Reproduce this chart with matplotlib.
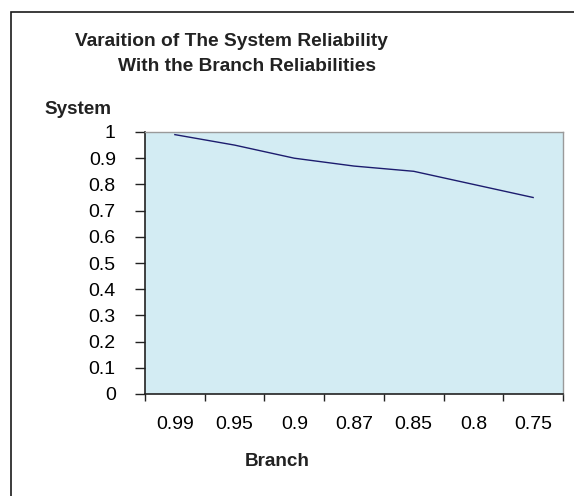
import matplotlib.pyplot as plt
from matplotlib.patches import Rectangle
from matplotlib.ticker import FixedLocator, FuncFormatter

# данные
branch = ["0.99", "0.95", "0.9", "0.87", "0.85", "0.8", "0.75"]
system = [0.99, 0.95, 0.90, 0.87, 0.85, 0.80, 0.75]

plt.rcParams['font.family'] = ['Liberation Sans', 'DejaVu Sans']

W, H = 574, 496
fig = plt.figure(figsize=(W / 100, H / 100), dpi=100)

# рамка всей диаграммы (обрезана справа и снизу)
fig.patches.append(Rectangle((11 / W, -0.1), 1.2, 1 - 12 / H + 0.1,
                             transform=fig.transFigure, fill=False,
                             edgecolor="#1a1a1a", linewidth=1.2))

ax = fig.add_axes([145 / W, 1 - 394 / H, (563 - 145) / W, (394 - 132) / H])
ax.set_facecolor("#d3ecf3")

x = list(range(len(branch)))
ax.plot(x, system, color="#1c1c6e", linewidth=1.0)

ax.set_xlim(-0.5, len(branch) - 0.5)
ax.set_ylim(0, 1)

ax.set_xticks(x)
ax.set_xticklabels(branch)
ax.xaxis.set_minor_locator(FixedLocator([i - 0.5 for i in range(len(branch) + 1)]))
ax.tick_params(axis="x", which="major", length=0, pad=16, labelsize=14)
ax.tick_params(axis="x", which="minor", length=5, width=1, color="#222222")

ax.set_yticks([i / 10 for i in range(11)])
ax.yaxis.set_major_formatter(FuncFormatter(lambda v, p: "%g" % round(v, 1)))
ax.tick_params(axis="y", length=7, width=1, pad=14, labelsize=14, color="#222222")

for s in ["top", "right"]:
    ax.spines[s].set_color("#9a9a9a")
    ax.spines[s].set_linewidth(1.0)
for s in ["left", "bottom"]:
    ax.spines[s].set_color("#222222")
    ax.spines[s].set_linewidth(1.2)

fig.text(75 / W, 1 - 41 / H, "Varaition of The System Reliability",
         fontsize=13.8, fontweight="bold", ha="left", va="center", color="#222222")
fig.text(118 / W, 1 - 67 / H, "With the Branch Reliabilities",
         fontsize=13.8, fontweight="bold", ha="left", va="center", color="#222222")
fig.text(44 / W, 1 - 110 / H, "System", fontsize=13.6, fontweight="bold",
         ha="left", va="center", color="#222222")
fig.text(277 / W, 1 - 461 / H, "Branch", fontsize=13.6, fontweight="bold",
         ha="center", va="center", color="#222222")

fig.savefig("out.png", dpi=100)
